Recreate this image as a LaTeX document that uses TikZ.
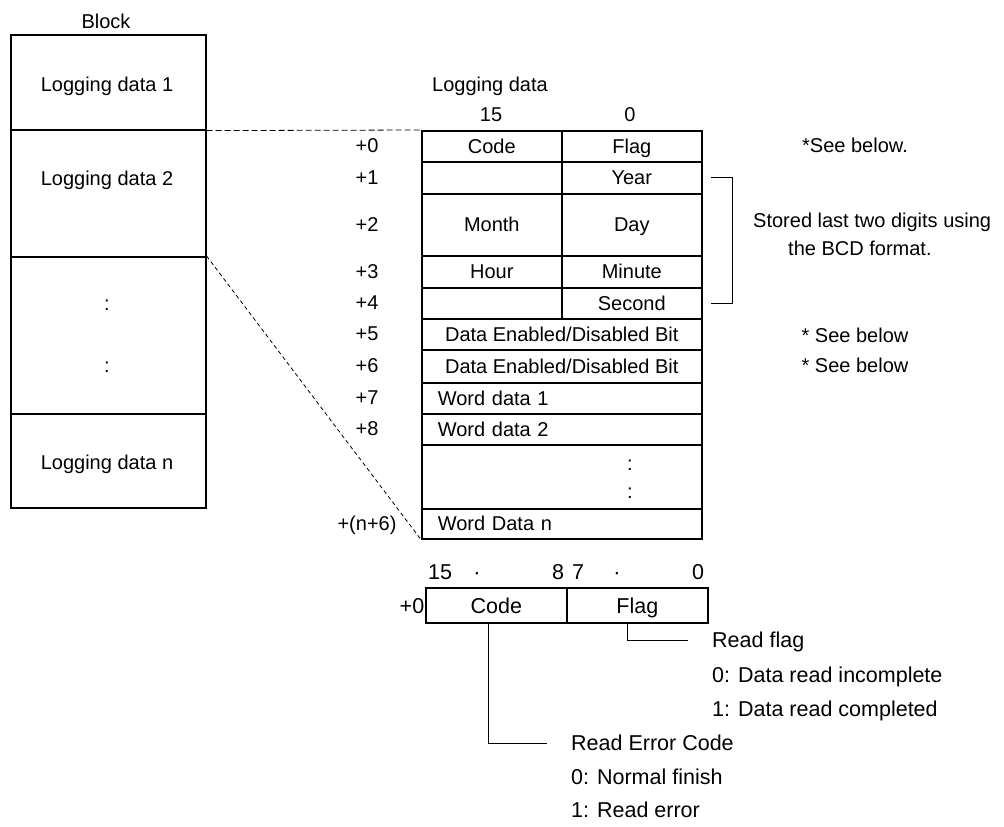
\documentclass[tikz,border=0pt]{standalone}
\usepackage{fontspec}
\setmainfont{Liberation Sans}
\usetikzlibrary{positioning, calc}

\begin{document}
\begin{tikzpicture}[
  x=1pt, y=-1pt,
  font=\fontsize{20}{24}\selectfont,
  block/.style    = {draw, line width=1.6pt, minimum width=195pt, inner sep=0pt, anchor=north west},
  txt/.style      = {inner sep=0pt, text height=18pt, text depth=4pt},
  cell/.style     = {draw, line width=1.6pt, txt, minimum height=31pt, anchor=north west},
  half/.style     = {cell, minimum width=140pt},
  full/.style     = {cell, minimum width=280pt},
  wordcell/.style = {full, text width=248pt, align=left, inner xsep=16pt},
  bittxt/.style   = {inner sep=0pt, font=\fontsize{21.5}{26}\selectfont, text height=19.5pt, text depth=4pt},
  bitcell/.style  = {draw, line width=1.6pt, bittxt, minimum width=141pt, minimum height=35pt, anchor=north west},
  lead/.style     = {line width=1pt},
  gap/.style      = {dashed, line width=0.8pt},
]
  \useasboundingbox (0,0) rectangle (1004,827);

  % block column
  \node[txt] (blk) at (106,21) {Block};
  \node[block, minimum height=95pt]  (ld1) at (10,34)  {};
  \node[block, minimum height=127pt] (ld2) at (10,129) {};
  \node[block, minimum height=157pt] (ldd) at (10,256) {};
  \node[block, minimum height=94pt]  (ldn) at (10,413) {};
  \node[txt] (t1)  at (107,84)  {Logging data 1};
  \node[txt] (t2)  at (107,178) {Logging data 2};
  \node[txt] (td1) at (107,303) {:};
  \node[txt] (td2) at (107,365) {:};
  \node[txt] (tn)  at (107,462) {Logging data n};

  % logging data table
  \node[txt] (hdr)  at (490,84)  {Logging data};
  \node[txt] (b15)  at (491,114) {15};
  \node[txt] (b0)   at (630,114) {0};

  \node[half]                       (code)   at (421,130) {Code};
  \node[half]                       (flag)   at (561,130) {Flag};
  \node[half, minimum height=32pt]  (c1l)    at (421,161) {};
  \node[half, minimum height=32pt]  (year)   at (561,161) {Year};
  \node[half, minimum height=62pt]  (month)  at (421,193) {Month};
  \node[half, minimum height=62pt]  (day)    at (561,193) {Day};
  \node[half, minimum height=32pt]  (hour)   at (421,255) {Hour};
  \node[half, minimum height=32pt]  (minute) at (561,255) {Minute};
  \node[half]                       (c4l)    at (421,287) {};
  \node[half]                       (second) at (561,287) {Second};
  \node[full]                       (en1)    at (421,318) {Data Enabled/Disabled Bit};
  \node[full, minimum height=33pt]  (en2)    at (421,349) {Data Enabled/Disabled Bit};
  \node[wordcell]                   (wd1)    at (421,382) {Word data 1};
  \node[wordcell]                   (wd2)    at (421,413) {Word data 2};
  \node[full, minimum height=64pt]  (wdots)  at (421,444) {};
  \node[wordcell, minimum height=30pt] (wdn) at (421,508) {Word Data n};
  \node[txt] (wd3) at (630,463) {:};
  \node[txt] (wd4) at (630,491) {:};

  % offsets
  \node[txt] (o0) at (367,145.5) {+0};
  \node[txt] (o1) at (367,177)   {+1};
  \node[txt] (o2) at (367,224)   {+2};
  \node[txt] (o3) at (367,271)   {+3};
  \node[txt] (o4) at (367,302.5) {+4};
  \node[txt] (o5) at (367,333.5) {+5};
  \node[txt] (o6) at (367,365.5) {+6};
  \node[txt] (o7) at (367,397.5) {+7};
  \node[txt] (o8) at (367,428.5) {+8};
  \node[txt] (on) at (367,523)   {+(n+6)};

  % zoom lines
  \draw[gap, dash pattern=on 6pt off 3pt] (ld1.south east) -- (code.north west);
  \draw[gap, dash pattern=on 4pt off 3pt] (ldd.north east) -- (wdn.south west);

  % notes on the right
  \node[txt] (n0) at (855,145) {*See below.};
  \node[txt, anchor=west] (bcd1) at (753,220) {Stored last two digits using};
  \node[txt, anchor=west] (bcd2) at (788,248) {the BCD format.};
  \node[txt] (n5) at (855,335) {* See below};
  \node[txt] (n6) at (855,365) {* See below};
  \draw[lead] ([xshift=8pt]year.east) -- ++(22,0) |- ([xshift=8pt]second.east);

  % code / flag word
  \node[bittxt] (h15) at (440,572) {15};
  \node[bittxt] (hd1) at (477,572) {·};
  \node[bittxt] (h8)  at (558,572) {8};
  \node[bittxt] (h7)  at (578,572) {7};
  \node[bittxt] (hd2) at (617,572) {·};
  \node[bittxt] (h0)  at (698,572) {0};
  \node[bittxt] (p0)  at (412,606) {+0};
  \node[bitcell] (bcode) at (425,587) {Code};
  \node[bitcell] (bflag) at (566,587) {Flag};

  \node[bittxt, anchor=west] (rflag) at (712,640) {Read flag};
  \node[bittxt, anchor=west] (rf0)   at (712,675) {0: Data read incomplete};
  \node[bittxt, anchor=west] (rf1)   at (712,709) {1: Data read completed};
  \node[bittxt, anchor=west] (rerr)  at (571,743) {Read Error Code};
  \node[bittxt, anchor=west] (re0)   at (571,777) {0: Normal finish};
  \node[bittxt, anchor=west] (re1)   at (571,810) {1: Read error};

  \draw[lead] ([xshift=-10pt]bflag.south) |- ([xshift=-24pt]rflag.west);
  \draw[lead] ([xshift=-8pt]bcode.south)  |- ([xshift=-24pt]rerr.west);
\end{tikzpicture}
\end{document}
